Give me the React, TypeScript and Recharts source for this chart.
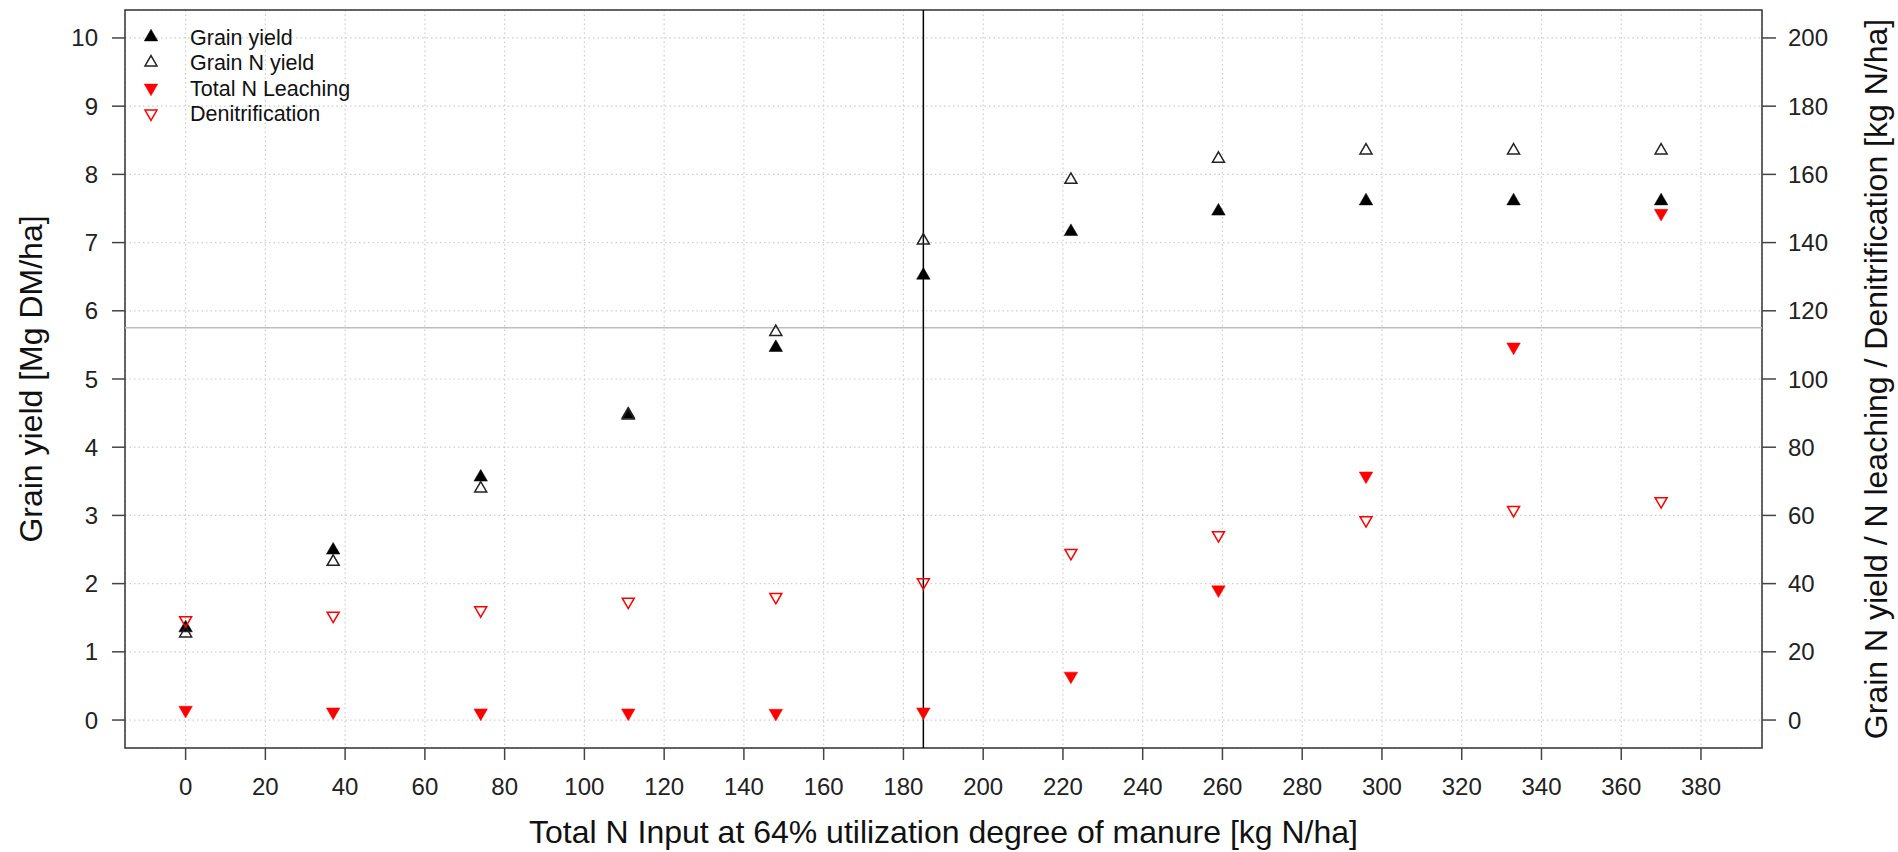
import React from "react";
import {
  ScatterChart,
  Scatter,
  XAxis,
  YAxis,
  CartesianGrid,
  ReferenceLine,
  ReferenceArea,
  Legend,
} from "recharts";

const FONT = "'Liberation Sans', Arial, Helvetica, sans-serif";

// N input levels [kg N/ha]
const nInput = [0, 37, 74, 111, 148, 185, 222, 259, 296, 333, 370];
// left axis [Mg DM/ha]
const grainYield = [1.35, 2.49, 3.56, 4.48, 5.46, 6.52, 7.16, 7.46, 7.61, 7.61, 7.61];
// right axis [kg N/ha]
const grainNYield = [25.4, 46.4, 67.9, 89.3, 113.8, 140.6, 158.4, 164.6, 167.0, 167.0, 167.0];
const nLeaching = [2.9, 2.4, 2.1, 2.1, 2.0, 2.4, 12.9, 38.2, 71.6, 109.4, 148.6];
const denitrification = [29.3, 30.6, 32.2, 34.7, 36.1, 40.4, 49.0, 54.2, 58.6, 61.6, 64.2];

const xTicks = [0, 20, 40, 60, 80, 100, 120, 140, 160, 180, 200, 220, 240, 260, 280, 300, 320, 340, 360, 380];
const leftTicks = [0, 1, 2, 3, 4, 5, 6, 7, 8, 9, 10];
const rightTicks = [0, 20, 40, 60, 80, 100, 120, 140, 160, 180, 200];

const refInput = 185;
const refYield = 5.75;

const X_DOMAIN: [number, number] = [-15.2, 395.3];
const L_DOMAIN: [number, number] = [-0.41, 10.41];
const R_DOMAIN: [number, number] = [-8.2, 208.2];

type Kind = { down: boolean; filled: boolean; color: string };

const series: { name: string; values: number[]; axis: string; kind: Kind }[] = [
  { name: "Grain yield", values: grainYield, axis: "left", kind: { down: false, filled: true, color: "#000" } },
  { name: "Grain N yield", values: grainNYield, axis: "right", kind: { down: false, filled: false, color: "#222" } },
  { name: "Total N Leaching", values: nLeaching, axis: "right", kind: { down: true, filled: true, color: "#ff0000" } },
  { name: "Denitrification", values: denitrification, axis: "right", kind: { down: true, filled: false, color: "#ff0000" } },
];

function Tri({ cx, cy, kind }: { cx: number; cy: number; kind: Kind }) {
  const side = kind.filled ? 13.5 : 12;
  const h = side / 2;
  const r = (h * 2) / Math.sqrt(3);
  const s = kind.down ? -1 : 1;
  const pts = [
    [cx, cy - s * r],
    [cx + h, cy + (s * r) / 2],
    [cx - h, cy + (s * r) / 2],
  ]
    .map((p) => p.join(","))
    .join(" ");
  return (
    <polygon
      points={pts}
      fill={kind.filled ? kind.color : "none"}
      stroke={kind.color}
      strokeWidth={kind.filled ? 0.5 : 1.5}
    />
  );
}

const legendRows = [37, 62.5, 88, 113.5];

function LegendBox() {
  return (
    <svg width={440} height={130} style={{ display: "block", overflow: "visible" }}>
      {series.map((s, i) => (
        <g key={s.name}>
          <Tri cx={151} cy={legendRows[i]} kind={s.kind} />
          <text
            x={190}
            y={legendRows[i]}
            dy="0.36em"
            fontSize={21.5}
            fontFamily={FONT}
            fill="#111"
          >
            {s.name}
          </text>
        </g>
      ))}
    </svg>
  );
}

export default function App() {
  const tickStyle = { fontSize: 24, fill: "#222", fontFamily: FONT };
  const tickLine = { stroke: "#444", strokeWidth: 1.5 };
  const titleStyle = { fontSize: 32, fill: "#111", fontFamily: FONT };

  return (
    <div
      style={{
        position: "absolute",
        left: 0,
        top: 0,
        width: 1898,
        height: 852,
        background: "#fff",
        fontFamily: FONT,
      }}
    >
      <ScatterChart width={1898} height={852} margin={{ top: 10, right: 0, bottom: 0, left: 0 }}>
        <CartesianGrid
          yAxisId="left"
          stroke="#cdcdcd"
          strokeDasharray="1.5 3"
          strokeWidth={1.2}
        />
        <XAxis
          type="number"
          dataKey="x"
          domain={X_DOMAIN}
          ticks={xTicks}
          interval={0}
          allowDataOverflow
          axisLine={false}
          tickLine={tickLine}
          tickSize={12}
          tickMargin={18}
          tick={tickStyle}
          height={104}
          label={{
            value: "Total N Input at 64% utilization degree of manure [kg N/ha]",
            position: "center",
            dy: 31.5,
            ...titleStyle,
          }}
        />
        <YAxis
          yAxisId="left"
          orientation="left"
          type="number"
          dataKey="y"
          domain={L_DOMAIN}
          ticks={leftTicks}
          interval={0}
          allowDataOverflow
          width={125}
          axisLine={false}
          tickLine={tickLine}
          tickSize={13}
          tickMargin={14}
          tick={tickStyle}
          label={{
            value: "Grain yield [Mg DM/ha]",
            angle: -90,
            position: "center",
            dx: -32,
            ...titleStyle,
          }}
        />
        <YAxis
          yAxisId="right"
          orientation="right"
          type="number"
          dataKey="y"
          domain={R_DOMAIN}
          ticks={rightTicks}
          interval={0}
          allowDataOverflow
          width={136}
          axisLine={false}
          tickLine={tickLine}
          tickSize={14}
          tickMargin={12}
          tick={tickStyle}
          label={{
            value: "Grain N yield / N leaching / Denitrification [kg N/ha]",
            angle: -90,
            position: "center",
            dx: 46,
            ...titleStyle,
          }}
        />
        <ReferenceArea
          yAxisId="left"
          x1={X_DOMAIN[0]}
          x2={X_DOMAIN[1]}
          y1={L_DOMAIN[0]}
          y2={L_DOMAIN[1]}
          fill="none"
          stroke="#333"
          strokeWidth={1.5}
          ifOverflow="visible"
        />
        <ReferenceLine yAxisId="left" y={refYield} stroke="#bdbdbd" strokeWidth={1.5} />
        <ReferenceLine yAxisId="left" x={refInput} stroke="#000" strokeWidth={1.5} />
        {series.map((s) => (
          <Scatter
            key={s.name}
            name={s.name}
            yAxisId={s.axis}
            data={nInput.map((x, i) => ({ x, y: s.values[i] }))}
            isAnimationActive={false}
            shape={(p: any) => <Tri cx={p.cx} cy={p.cy} kind={s.kind} />}
          />
        ))}
        <Legend
          layout="horizontal"
          verticalAlign="middle"
          align="center"
          wrapperStyle={{ left: 0, top: 0, width: 440, height: 130 }}
          content={() => <LegendBox />}
        />
      </ScatterChart>
    </div>
  );
}
